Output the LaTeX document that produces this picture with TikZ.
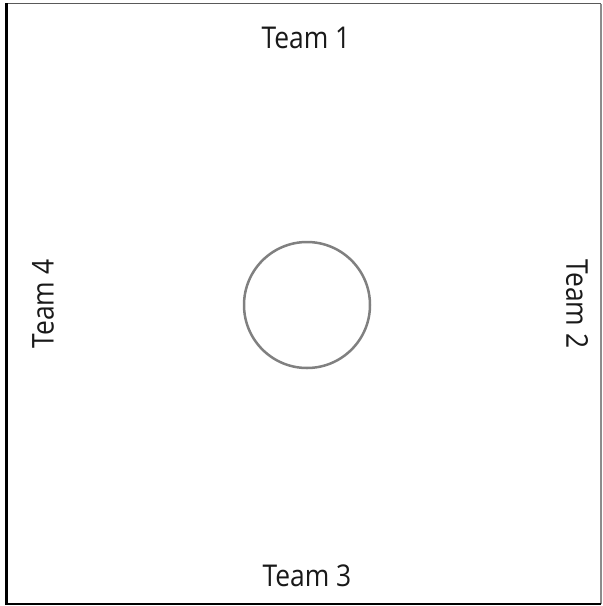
\documentclass[tikz,border=0pt]{standalone}
\usepackage{fontspec}
\setmainfont{Open Sans}
\begin{document}
\begin{tikzpicture}[x=1pt,y=-1pt,
  lbl/.style={font=\fontsize{30}{34}\selectfont, inner sep=0pt, text=black!90},
  frame/.style={draw=black, line width=1.5pt},
  ring/.style={draw=black!50, line width=2.5pt}]
\useasboundingbox (0,0) rectangle (603,606);
\fill[white] (0,0) rectangle (603,606);
\draw[draw=black!65, line width=1.8pt] (6,3.5) -- (601,3.5);
\draw[draw=black!45, line width=1.2pt] (601,3.5) -- (601,604);
\draw[frame] (601,604) -- (6,604);
\draw[draw=black, line width=3pt] (6.5,3) -- (6.5,604.5);
\node[ring, circle, minimum size=126pt, inner sep=0pt] (c) at (307,305) {};
\node[lbl, anchor=base] (t1) at (306,48) {\scalebox{0.88}[1]{Team 1}};
\node[lbl, anchor=base] (t3) at (307,586) {\scalebox{0.88}[1]{Team 3}};
\node[lbl, rotate=90] (t4) at (43,304) {\scalebox{0.88}[1]{Team 4}};
\node[lbl, rotate=-90] (t2) at (577,304) {\scalebox{0.88}[1]{Team 2}};
\end{tikzpicture}
\end{document}
